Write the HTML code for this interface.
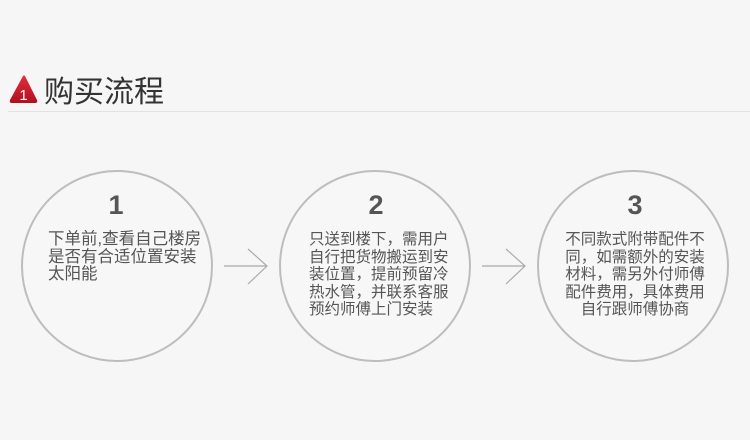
<!DOCTYPE html>
<html><head><meta charset="utf-8"><style>
body{margin:0;width:750px;height:440px;background:#f6f6f6;overflow:hidden;font-family:"Liberation Sans","Noto Sans CJK SC",sans-serif;}
.t{position:absolute;color:#555;font-size:15.5px;line-height:17.5px;white-space:nowrap}
</style></head><body>
<svg width="750" height="440" style="position:absolute;left:0;top:0">
<defs><linearGradient id="g" x1="0" y1="0" x2="0" y2="1"><stop offset="0" stop-color="#e0303e"/><stop offset="1" stop-color="#b0101e"/></linearGradient></defs>
<path d="M23 76 Q24 75 25 76 L37 100 Q38 103 35 103 L12 103 Q9 103 10 100 Z" fill="url(#g)"/>
<text x="23.5" y="100" font-size="15" fill="#fff" text-anchor="middle" font-family="Liberation Sans">1</text>
<text x="44" y="102" font-size="30" fill="#333" font-family="Liberation Sans,Noto Sans CJK SC,sans-serif">购买流程</text>
<line x1="8" y1="111.5" x2="750" y2="111.5" stroke="#e2e2e2" stroke-width="1"/>
<g fill="#f7f7f7" stroke="#bdbdbd" stroke-width="2">
<circle cx="117" cy="266" r="95"/><circle cx="375" cy="266" r="95"/><circle cx="633" cy="266" r="95"/>
</g>
<g fill="none" stroke="#aaa" stroke-width="1.2">
<path d="M224 266 H267 M248 249 L267 266 L248 284"/>
<path d="M482 266 H525 M506 249 L525 266 L506 284"/>
</g>
<g font-size="27" fill="#555" text-anchor="middle" font-family="Liberation Sans" font-weight="bold">
<text x="116" y="214">1</text><text x="376" y="214">2</text><text x="635" y="214">3</text>
</g>
</svg>
<div class="t" style="left:48px;top:231px;font-size:16.5px">下单前,查看自己楼房<br>是否有合适位置安装<br>太阳能</div>
<div class="t" style="left:309px;top:231px">只送到楼下，需用户<br>自行把货物搬运到安<br>装位置，提前预留冷<br>热水管，并联系客服<br>预约师傅上门安装</div>
<div class="t" style="left:563px;top:231px;width:144px;text-align:center">不同款式附带配件不<br>同，如需额外的安装<br>材料，需另外付师傅<br>配件费用，具体费用<br>自行跟师傅协商</div>
</body></html>
